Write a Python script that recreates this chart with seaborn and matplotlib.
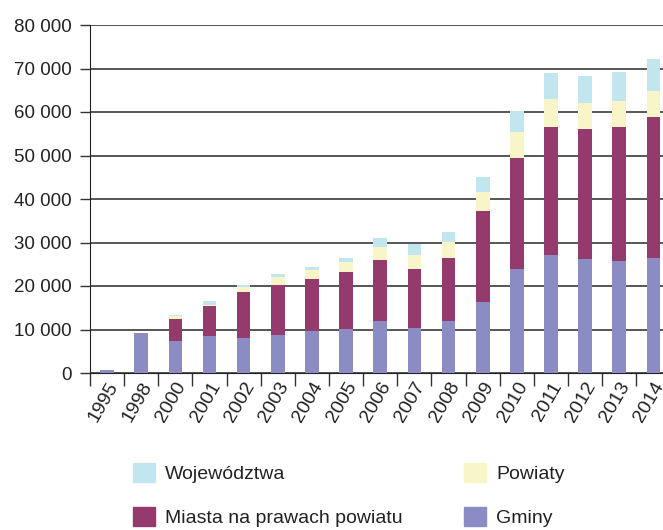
import seaborn as sns
import matplotlib.pyplot as plt
import matplotlib.ticker as mticker
import matplotlib.transforms as mtrans
from matplotlib.patches import Patch
import numpy as np
import pandas as pd

years = ["1995", "1998", "2000", "2001", "2002", "2003", "2004", "2005", "2006",
         "2007", "2008", "2009", "2010", "2011", "2012", "2013", "2014"]
# stacked segment values (not cumulative)
gminy = [700, 9300, 7270, 8410, 7950, 8800, 9650, 10180, 12030,
         10340, 12030, 16320, 23980, 27200, 26120, 25820, 26350]
miasta = [0, 0, 5210, 6990, 10580, 11500, 12030, 12950, 13860,
          13640, 14400, 20920, 25520, 29260, 29880, 30800, 32570]
powiaty = [0, 0, 620, 300, 1150, 1680, 2000, 2300, 3080,
           3220, 3600, 4440, 5900, 6530, 6070, 5980, 5980]
wojewodztwa = [0, 0, 300, 760, 620, 780, 690, 1070, 2060,
               2450, 2450, 3450, 4830, 5880, 6210, 6600, 7280]

c_gm = "#8a8cc3"
c_mi = "#943a6d"
c_po = "#f8f6c8"
c_wo = "#c2e6ef"

sns.set_style("white")
plt.rcParams["font.family"] = ["Liberation Sans", "DejaVu Sans"]
plt.rcParams["text.color"] = "#222222"

df = pd.DataFrame({"rok": years, "Gminy": gminy, "Miasta": miasta,
                   "Powiaty": powiaty, "Wojewodztwa": wojewodztwa})
df["s2"] = df["Gminy"] + df["Miasta"]
df["s3"] = df["s2"] + df["Powiaty"]
df["s4"] = df["s3"] + df["Wojewodztwa"]

fig = plt.figure(figsize=(6.63, 5.30), dpi=100)
ax = fig.add_axes([90 / 663, 157 / 530, 573 / 663, 348 / 530])

for col, c in [("s4", c_wo), ("s3", c_po), ("s2", c_mi), ("Gminy", c_gm)]:
    sns.barplot(data=df, x="rok", y=col, color=c, width=0.4, ax=ax,
                saturation=1, edgecolor="none", linewidth=0, zorder=3)

ax.set_ylim(0, 80000)
ax.set_xlim(-0.5, 16.28)
ax.yaxis.set_major_locator(mticker.MultipleLocator(10000))
ax.yaxis.set_major_formatter(mticker.FuncFormatter(lambda v, p: f"{int(v):,}".replace(",", " ")))
ax.grid(axis="y", color="#3a3a3a", linewidth=1.2, zorder=1)
ax.set_axisbelow(True)
for s in ["top", "right"]:
    ax.spines[s].set_visible(False)
ax.spines["left"].set_color("#222222")
ax.spines["bottom"].set_color("#222222")
ax.set_xlabel("")
ax.set_ylabel("")

ax.tick_params(axis="y", length=7, width=1, color="#333333", labelsize=13.5, pad=6,
               left=True, labelcolor="#222222")
ax.set_xticks(np.arange(len(years)) - 0.5, minor=True)
ax.tick_params(axis="x", which="minor", length=9, width=1, color="#333333", bottom=True)
ax.tick_params(axis="x", which="major", length=0, labelsize=14, pad=3, labelcolor="#222222")
ax.set_xticks(np.arange(len(years)))
ax.set_xticklabels(years, rotation=60, ha="right", va="center", rotation_mode="anchor")
for lab in ax.get_xticklabels():
    lab.set_transform(lab.get_transform() + mtrans.ScaledTranslation(5 / 72, -4.5 / 72, fig.dpi_scale_trans))

h1 = [Patch(color=c_wo, label="Województwa"),
      Patch(color=c_mi, label="Miasta na prawach powiatu")]
h2 = [Patch(color=c_po, label="Powiaty"),
      Patch(color=c_gm, label="Gminy")]
kw = dict(loc="upper left", frameon=False, fontsize=14, handlelength=1.15, handleheight=1.15,
          labelspacing=1.2, handletextpad=0.5, borderpad=0, borderaxespad=0)
fig.legend(handles=h1, bbox_to_anchor=(133 / 663, 1 - 463 / 530), **kw)
fig.legend(handles=h2, bbox_to_anchor=(464 / 663, 1 - 463 / 530), **kw)

fig.savefig("out.png", dpi=100)
